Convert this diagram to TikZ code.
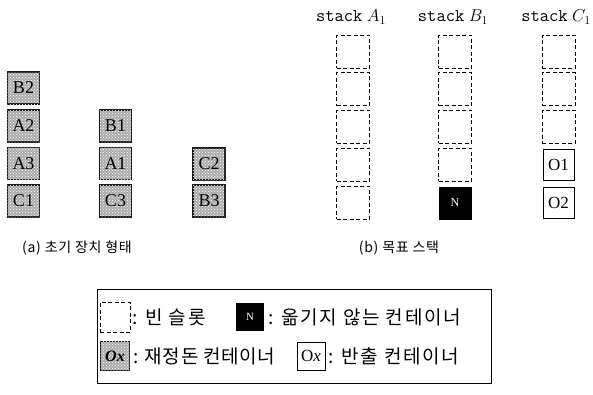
\documentclass[tikz,border=0pt]{standalone}
\usepackage{fontspec}
\newfontfamily\kr{Noto Sans CJK KR}
\newfontfamily\tnr{Liberation Serif}
\usetikzlibrary{patterns}
\begin{document}
\begin{tikzpicture}[x=1pt,y=-1pt,
 gbox/.style={draw=black!90, line width=1.4pt, fill=gray!65, postaction={pattern=crosshatch dots, pattern color=white}, minimum width=32pt, minimum height=32pt, inner sep=0pt, font=\tnr\fontsize{18}{18}\selectfont},
 ebox/.style={draw, dash pattern=on 4pt off 2.5pt, line width=0.9pt, minimum width=33pt, minimum height=33pt, inner sep=0pt},
 obox/.style={draw, line width=1pt, minimum width=31pt, minimum height=31pt, inner sep=0pt, font=\tnr\fontsize{17}{17}\selectfont},
 nbox/.style={fill=black, text=white, minimum width=33pt, minimum height=33pt, inner sep=0pt, font=\tnr\fontsize{12}{12}\selectfont},
 slabel/.style={font=\ttfamily\fontsize{18}{18}\selectfont, inner sep=0pt},
 captext/.style={font=\kr\fontsize{14}{14}\selectfont\addfontfeature{LetterSpace=5}, inner sep=0pt},
 leg/.style={font=\kr\fontsize{19}{19}\selectfont\addfontfeature{LetterSpace=9}, anchor=west, inner sep=0pt},
 legb/.style={leg, font=\kr\fontsize{19}{19}\selectfont\addfontfeature{LetterSpace=3}}
]
\useasboundingbox (0,0) rectangle (593,394);
% (a) initial layout
\node[gbox] (b2) at (23.5,88) {B2};
\node[gbox] (a2) at (23.5,126) {A2};
\node[gbox] (a3) at (23.5,163.5) {A3};
\node[gbox] (c1) at (23.5,201) {C1};
\node[gbox] (b1) at (115.5,126) {B1};
\node[gbox] (a1) at (115.5,163.5) {A1};
\node[gbox] (c3) at (115.5,201) {C3};
\node[gbox] (c2) at (209,164) {C2};
\node[gbox] (b3) at (209,201) {B3};
% (b) target stacks
\node[slabel] (la) at (351,17) {stack\hspace{0.25em}$A_1$};
\node[slabel] (lb) at (453,17) {stack\hspace{0.25em}$B_1$};
\node[slabel] (lc) at (556,17) {stack\hspace{0.25em}$C_1$};
\foreach \i/\y in {1/51.5,2/89,3/126.5,4/164.5,5/202.5}{
  \node[ebox] (sa\i) at (353,\y) {};
}
\foreach \i/\y in {1/51.5,2/89,3/126.5,4/164.5}{
  \node[ebox] (sb\i) at (455,\y) {};
}
\node[nbox] (sb5) at (455,203) {N};
\foreach \i/\y in {1/51.5,2/89,3/126.5}{
  \node[ebox] (sc\i) at (558.5,\y) {};
}
\node[obox] (o1) at (558.5,164.5) {O1};
\node[obox] (o2) at (558.5,202.5) {O2};
% captions
\node[captext] (capa) at (77,248) {(a) 초기 장치 형태};
\node[captext] (capb) at (399,248) {(b) 목표 스택};
% legend
\node[draw, line width=1pt, minimum width=394pt, minimum height=94pt, inner sep=0pt] (frame) at (294,336) {};
\node[ebox, minimum width=30pt, minimum height=30pt] (le) at (115,317) {};
\node[leg] (lte) at (132,317) {: 빈 슬롯};
\node[nbox, minimum width=28pt, minimum height=28pt, font=\tnr\fontsize{11}{11}\selectfont] (ln) at (250,317) {N};
\node[leg] (ltn) at (268,317) {: 옮기지 않는 컨테이너};
\node[gbox, minimum width=29pt, minimum height=29pt, font=\tnr\itshape\bfseries\fontsize{16}{16}\selectfont] (lg) at (115,356) {Ox};
\node[legb] (ltg) at (133,356) {: 재정돈 컨테이너};
\node[obox, minimum width=28pt, minimum height=28pt] (lo) at (311,356) {O\itshape x};
\node[leg] (lto) at (328,356) {: 반출 컨테이너};
\end{tikzpicture}
\end{document}
